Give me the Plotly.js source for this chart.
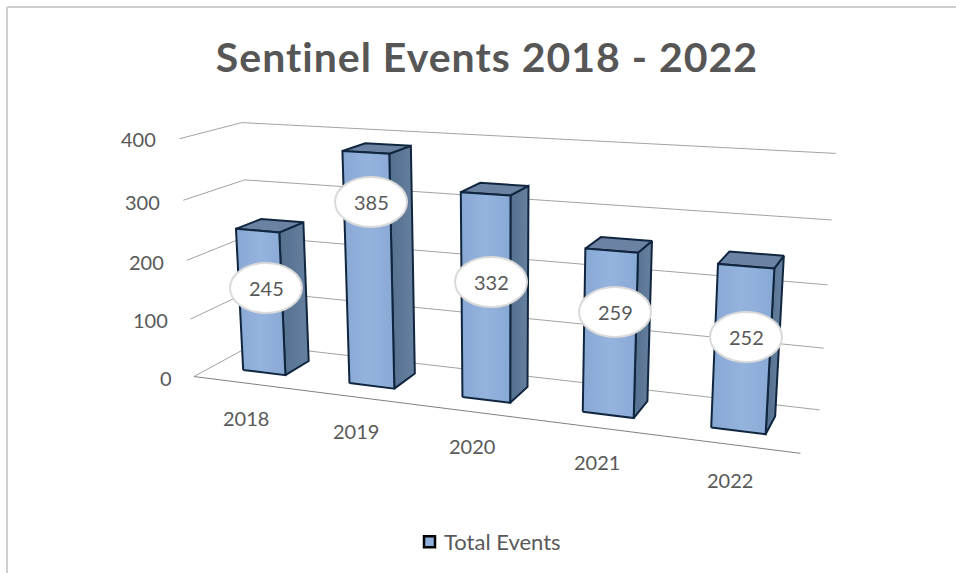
<!DOCTYPE html>
<html><head><meta charset="utf-8">
<script src="https://cdn.plot.ly/plotly-3.0.1.min.js"></script>
<style>
html,body{margin:0;background:#fff}
#c{width:956px;height:573px}
/* Calibri-like spacing for the heading, and a tight legend key */
.annotation text{font-variant-ligatures:none}
.annotation.chart-heading text{letter-spacing:1px}
.legend .scatterpts{transform:translate(25.5px,0)}
</style>
</head><body><div id="c"></div>
<script>
const years=['2018','2019','2020','2021','2022'];
const totalEvents=[245,385,332,259,252];
const valueTicks=[0,100,200,300,400];
const axisMax=400;
const titleText='Sentinel Events 2018 - 2022';
const seriesName='Total Events';

// Perspective camera of the 3-D box: X runs along the categories, Y up the value axis, Z into the depth
const camera=[486.24278,-22.52639,77.69659,193.92103,8.67656,-244.00372,-6.24241,376.54215,-0.15026,-0.04479,0.07481];
const barWidth=0.08089,zFront=0.30471,zBack=0.73151;

// Placement of the label balloons and of the axis text
const labelX=[266,371,491,615,746],labelY=[288,202,282,312,337];
const valueTickX=[166,150.5,146,142,138],valueTickY=[378,320,262,202,139];
const yearX=[246,356,472,597,730],yearY=[418,431,446,462,480];

const GREY='#595959',FONT='Lato';
function project(X,Y,Z){const c=camera,w=c[8]*X+c[9]*Y+c[10]*Z+1;return [(c[0]*X+c[1]*Y+c[2]*Z+c[3])/w,(c[4]*X+c[5]*Y+c[6]*Z+c[7])/w];}
const P=(X,v,Z)=>project(X,v/axisMax,Z);
const face=(pts,fill,extra)=>Object.assign({x:pts.map(q=>q[0]).concat(pts[0][0]),y:pts.map(q=>q[1]).concat(pts[0][1]),mode:'lines',fill:'toself',fillcolor:fill,line:{color:'#10263f',width:2},showlegend:false,hoverinfo:'skip'},extra||{});
const rule=(pts,color)=>({x:pts.map(q=>q[0]),y:pts.map(q=>q[1]),mode:'lines',line:{color:color||'#a3a3a3',width:1},showlegend:false,hoverinfo:'skip'});

const traces=[];
valueTicks.forEach(t=>traces.push(rule([P(0,t,0),P(0,t,1),P(1,t,1)])));
traces.push(rule([P(0,0,0),P(1,0,0)],'#808080'));
years.forEach((y,i)=>{
  const v=totalEvents[i],xl=(i+.5)/5-barWidth/2,xr=xl+barWidth;
  traces.push(face([P(xr,0,zFront),P(xr,0,zBack),P(xr,v,zBack),P(xr,v,zFront)],'#5d7899',{fillgradient:{type:'horizontal',colorscale:[[0,'#54708f'],[1,'#67809f']]}}));
  traces.push(face([P(xl,v,zFront),P(xr,v,zFront),P(xr,v,zBack),P(xl,v,zBack)],'#6c82a3'));
  traces.push(face([P(xl,0,zFront),P(xr,0,zFront),P(xr,v,zFront),P(xl,v,zFront)],'#8fb0dc',{fillgradient:{type:'horizontal',colorscale:[[0,'#88a8d4'],[.5,'#94b3dd'],[1,'#89a9d5']]}}));
});
traces.push({x:[null],y:[null],name:seriesName,mode:'markers',marker:{symbol:'square',size:11,color:'#8fb0dc',line:{color:'#000',width:2.5}},hoverinfo:'skip'});

const shapes=totalEvents.map((v,i)=>({type:'circle',xref:'x',yref:'y',x0:labelX[i]-36,x1:labelX[i]+36,y0:labelY[i]-25,y1:labelY[i]+25,fillcolor:'#fff',line:{color:'#dadada',width:2},layer:'above'}));
shapes.push({type:'line',xref:'paper',yref:'paper',x0:7/956,x1:1,y0:1-7/573,y1:1-7/573,line:{color:'#cfcfcf',width:2},layer:'below'});
shapes.push({type:'line',xref:'paper',yref:'paper',x0:7/956,x1:7/956,y0:1-7/573,y1:0,line:{color:'#cfcfcf',width:2},layer:'below'});

const tf={family:FONT,size:20,color:GREY};
const annotations=[];
totalEvents.forEach((v,i)=>annotations.push({x:labelX[i],y:labelY[i],text:String(v),showarrow:false,font:tf}));
valueTicks.forEach((t,i)=>annotations.push({x:valueTickX[i],y:valueTickY[i],text:String(t),showarrow:false,font:tf}));
years.forEach((y,i)=>annotations.push({x:yearX[i],y:yearY[i],text:y,showarrow:false,font:tf}));
annotations.push({x:487,y:56.5,text:'<b>'+titleText+'</b>',showarrow:false,font:{family:FONT,size:41,color:'#565656'}});

Plotly.newPlot('c',traces,{width:956,height:573,margin:{l:0,r:0,t:0,b:0},paper_bgcolor:'#fff',plot_bgcolor:'#fff',
  xaxis:{range:[0,956],visible:false,fixedrange:true},yaxis:{range:[573,0],visible:false,fixedrange:true},
  shapes,annotations,showlegend:true,
  legend:{x:404/956,y:1-542/573,yanchor:'middle',xanchor:'left',font:{family:FONT,size:22,color:GREY},bgcolor:'rgba(0,0,0,0)',itemwidth:30}
},{staticPlot:true}).then(()=>{
  const notes=document.querySelectorAll('.annotation');
  notes[notes.length-1].classList.add('chart-heading');
});
</script></body></html>
